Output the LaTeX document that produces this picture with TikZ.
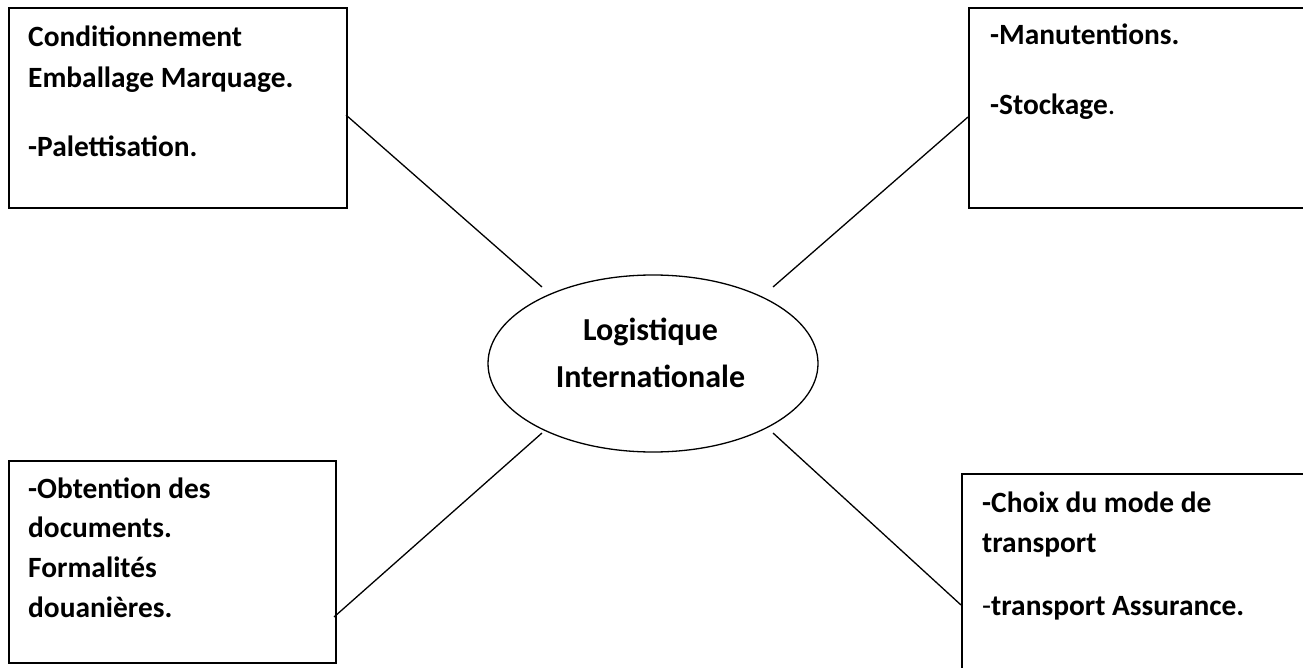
\documentclass[tikz,border=0pt]{standalone}
\usepackage{fontspec}
\setmainfont{Carlito}
\usetikzlibrary{shapes.geometric}
\begin{document}
\begin{tikzpicture}[x=1pt,y=-1pt,
  boxstyle/.style={draw,line width=1.8pt,rectangle,inner sep=0pt,anchor=north west},
  txt/.style={anchor=base west,inner sep=0pt,font=\fontsize{29.4}{40}\selectfont\bfseries},
  ctxt/.style={anchor=base,inner sep=0pt,font=\fontsize{32}{40}\selectfont\bfseries},
  conn/.style={line width=1.3pt}]
\useasboundingbox (0,0) rectangle (1303,668);
\clip (0,0) rectangle (1303,668);
\fill[white] (0,0) rectangle (1303,668);
% boxes
\node[boxstyle,minimum width=420pt,minimum height=200pt] (tr) at (968,7) {};
\node[boxstyle,minimum width=338pt,minimum height=200pt] (tl) at (8,7) {};
\node[boxstyle,minimum width=327pt,minimum height=202pt] (bl) at (8,460) {};
\node[boxstyle,minimum width=420pt,minimum height=220pt] (br) at (961,473) {};
% ellipse
\node[draw,ellipse,line width=1.3pt,minimum width=330pt,minimum height=177pt,inner sep=0pt] (c) at (653,363.5) {};
% texts
\node[txt] (t1) at (28,47) {Conditionnement};
\node[txt] (t2) at (28,88) {Emballage Marquage.};
\node[txt] (t3) at (28,157) {-Palettisation.};
\node[txt] (t4) at (990,45) {-Manutentions.};
\node[txt] (t5) at (990,115) {-Stockage\textmd{.}};
\node[txt] (t6) at (28,498) {-Obtention des};
\node[txt] (t7) at (28,537) {documents.};
\node[txt] (t8) at (28,577) {Formalités};
\node[txt] (t9) at (28,617) {douanières.};
\node[txt] (t10) at (982,512) {-Choix du mode de};
\node[txt] (t11) at (982,552) {transport};
\node[txt] (t12) at (982,615) {\textmd{-}transport Assurance.};
\node[ctxt] (t13) at (650.5,340) {Logistique};
\node[ctxt] (t14) at (650.5,387) {Internationale};
% connector ends
\coordinate (ctl) at (542,287);
\coordinate (ctr) at (773,287);
\coordinate (cbl) at (542,433);
\coordinate (cbr) at (773,433);
\coordinate (btl) at (346,115);
\coordinate (btr) at (968,117);
\coordinate (bbl) at (334,617);
\coordinate (bbr) at (961,605);
\draw[conn] (btl) -- (ctl);
\draw[conn] (btr) -- (ctr);
\draw[conn] (bbl) -- (cbl);
\draw[conn] (bbr) -- (cbr);
\end{tikzpicture}
\end{document}
